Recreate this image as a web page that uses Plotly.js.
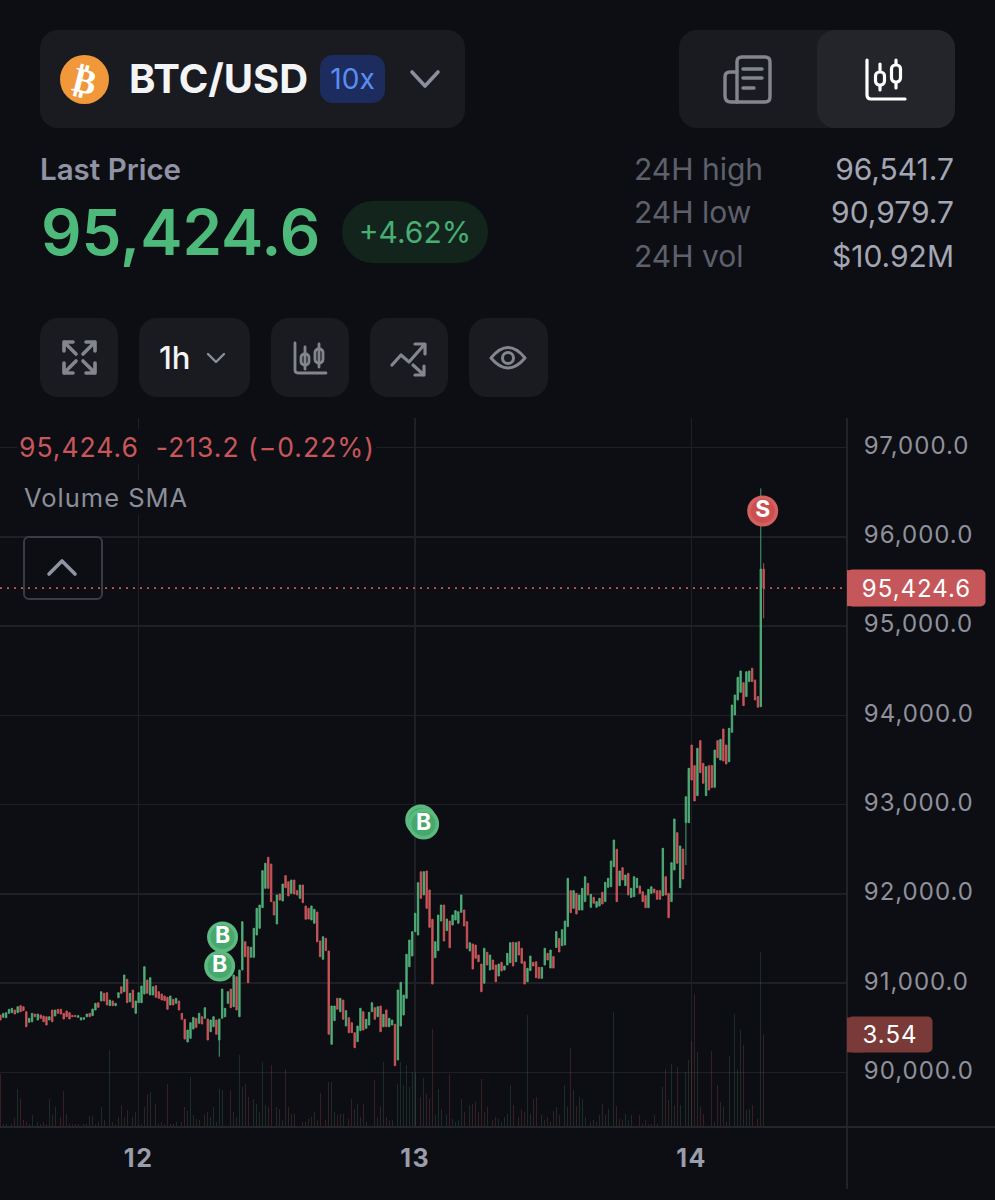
<!DOCTYPE html>
<html><head><meta charset="utf-8">
<script src="https://cdn.plot.ly/plotly-3.0.1.min.js"></script>
<style>
html,body{margin:0;padding:0;background:#0d0e13;width:995px;height:1200px;overflow:hidden;font-family:Inter,"Noto Sans",sans-serif}
#chart{position:absolute;left:0;top:0;width:995px;height:1200px}
.ui{position:absolute;white-space:nowrap;line-height:1}
.card{position:absolute;background:#1a1b20;border-radius:18px}
svg.ic{position:absolute;left:0;top:0;width:995px;height:1200px;pointer-events:none}
.ytick text{letter-spacing:1px}
.yaxislayer-above{transform:translateY(-2px)}
.xtick text{letter-spacing:1.5px}
.annotation-text{letter-spacing:1px}
.annotation rect.bg{rx:5px}
</style></head><body>
<div id="chart"></div>

<div class="card" style="left:40px;top:30px;width:425px;height:98px"></div>
<div class="card" style="left:679px;top:30px;width:276px;height:98px"></div>
<div class="card" style="left:817px;top:30px;width:138px;height:98px;background:#24252b"></div>
<div class="card" style="left:40px;top:318px;width:78px;height:79px"></div>
<div class="card" style="left:139px;top:318px;width:111px;height:79px"></div>
<div class="card" style="left:271px;top:318px;width:78px;height:79px"></div>
<div class="card" style="left:370px;top:318px;width:78px;height:79px"></div>
<div class="card" style="left:469px;top:318px;width:79px;height:79px"></div>

<div class="card" style="left:60px;top:55px;width:49px;height:49px;border-radius:50%;background:#f0983a"></div>
<div class="ui" style="left:60px;width:49px;text-align:center;top:61px;font:700 35px 'DejaVu Sans';color:#fff;transform:rotate(14deg)">₿</div>
<div class="ui" style="left:129px;top:59px;font-size:40px;font-weight:700;color:#f3f4f6">BTC/USD</div>
<div class="card" style="left:320px;top:55px;width:65px;height:48px;background:#1d2c5e;border-radius:13px"></div>
<div class="ui" style="left:320px;width:65px;text-align:center;top:65px;font-size:28px;color:#5b8cf0">10x</div>

<div class="ui" style="left:40px;top:155px;font-size:29.5px;font-weight:600;color:#8f93a3">Last Price</div>
<div class="ui" style="left:41px;top:200px;font-size:63.5px;font-weight:600;color:#4dba7b">95,424.6</div>
<div class="card" style="left:342px;top:201px;width:146px;height:62px;background:#12241c;border-radius:31px"></div>
<div class="ui" style="left:342px;width:146px;text-align:center;top:217px;font-size:30px;color:#47ae74">+4.62%</div>

<div class="ui" style="left:634px;top:154px;font-size:30px;color:#5e606b">24H high</div>
<div class="ui" style="left:634px;top:197px;font-size:30px;color:#5e606b">24H low</div>
<div class="ui" style="left:634px;top:241px;font-size:30px;color:#5e606b">24H vol</div>
<div class="ui" style="right:41px;top:154px;font-size:30px;color:#a3a6b3">96,541.7</div>
<div class="ui" style="right:41px;top:197px;font-size:30px;color:#a3a6b3">90,979.7</div>
<div class="ui" style="right:41px;top:241px;font-size:30px;color:#a3a6b3">$10.92M</div>

<div class="ui" style="left:159px;top:342px;font-size:31px;font-weight:500;color:#f3f4f6">1h</div>

<div class="ui" style="left:23px;top:536px;width:76px;height:60px;border:2px solid #3a3c44;border-radius:6px"></div>

<svg class="ic" viewBox="0 0 995 1200" fill="none" stroke-linecap="round" stroke-linejoin="round">
  <path d="M412 72 L425 86 L438 72" stroke="#8b8e9c" stroke-width="3.6"/>
  <!-- news -->
  <g stroke="#84868f" stroke-width="3.4">
    <path d="M737 102 H765 Q770 102 770 97 V62 Q770 57 765 57 H742 Q737 57 737 62 Z"/>
    <path d="M737 72 H730 Q725 72 725 77 V96 Q725 102 731 102 H737"/>
    <path d="M743 69 H762 M743 78 H762 M743 88 H754"/>
  </g>
  <!-- candles active -->
  <g stroke="#fff" stroke-width="3.2">
    <path d="M867 60 V95 Q867 99 871 99 H905"/>
    <path d="M880 64 V90 M896 60 V88"/>
    <rect x="875.5" y="72" width="9" height="13" rx="4" fill="#24252b"/>
    <rect x="891.5" y="65" width="9" height="17" rx="4" fill="#24252b"/>
  </g>
  <!-- expand -->
  <g stroke="#84868f" stroke-width="3.6">
    <path d="M64 351 V342 H73 M64 342 L76 354"/>
    <path d="M95 351 V342 H86 M95 342 L83 354"/>
    <path d="M64 363 V373 H73 M64 373 L76 361"/>
    <path d="M95 363 V373 H86 M95 373 L83 361"/>
  </g>
  <path d="M208 354 L216 362 L224 354" stroke="#8b8e9c" stroke-width="2.4"/>
  <!-- candles small -->
  <g stroke="#84868f" stroke-width="2.8">
    <path d="M295 343 V370 Q295 373 298 373 H326"/>
    <path d="M305 347 V369 M319 344 V367"/>
    <rect x="301" y="354" width="8" height="11" rx="3.5"/>
    <rect x="315" y="349" width="8" height="14" rx="3.5"/>
  </g>
  <!-- trend -->
  <g stroke="#84868f" stroke-width="3.2">
    <path d="M392 365 L401 355 L409 362 L424 345"/>
    <path d="M415 344 H425 V354"/>
    <path d="M413 365 L424 375 M424 366 V375 H415"/>
  </g>
  <!-- eye -->
  <g stroke="#84868f" stroke-width="3">
    <path d="M491 358 Q508 337 525 358 Q508 378 491 358 Z"/>
    <circle cx="508" cy="358" r="5.5"/>
  </g>
  <path d="M49 574 L62 561 L75 574" stroke="#8f93a3" stroke-width="3.6"/>
</svg>

<script>
const startUTC = Date.UTC(2026,0,11,12,0);
const stepMs = 900000;

const open = [90644,90618,90614,90663,90670,90700,90670,90749,90737,90681,90562,90569,90655,90588,90644,90633,90625,90588,90700,90633,
90708,90708,90663,90689,90670,90640,90640,90618,90588,90596,90625,90663,90637,90700,90782,90801,90887,90894,90749,90801,
90749,90838,90961,90905,91044,90793,90924,90663,90782,90782,90879,91036,90868,90868,90973,90905,90879,90857,90842,90756,
90820,90775,90801,90663,90596,90342,90383,90487,90607,90551,90625,90607,90599,90457,90513,90588,90364,90607,90625,90775,
90935,90737,91073,90625,91148,91465,91409,91290,91290,91540,91615,91846,92063,92410,92335,91913,91663,92000,91921,92205,
92137,92007,92156,92037,91951,92100,91865,91839,91708,91671,91798,91473,91268,91503,91361,90316,90581,90831,90681,90812,
90521,90614,90558,90446,90346,90469,90681,90495,90532,90681,90726,90625,90745,90513,90700,90513,90532,90540,90140,90521,
90644,90831,91185,91305,91577,91540,92249,91988,92257,92044,91716,91286,91365,91697,91876,91589,91697,91652,91708,91671,
91794,91820,91689,91361,91439,91428,91316,91215,91000,91346,91148,91260,91204,91081,91234,91148,91204,91230,91458,91241,
91465,91391,91241,91017,91141,91234,91241,91178,91055,91204,91335,91170,91300,91400,91500,91420,91428,91634,92037,91839,
92007,91820,91820,91914,92119,91850,91962,91850,91865,92018,91914,92074,92081,92305,92500,92093,92294,92093,92231,91962,
91970,92070,92089,92025,91981,91846,92007,92055,92037,92037,91981,92193,92007,91914,92268,92686,92070,92503,92798,92798,
93668,93437,93101,93717,93463,93101,93437,93437,93194,93717,93500,93847,93668,93481,93810,94004,94172,94258,94366,94210,
94378,94527,94396,94210,94097,95638];

const close = [90588,90663,90670,90708,90719,90655,90737,90681,90693,90513,90607,90663,90625,90655,90607,90569,90532,90625,90569,90700,
90663,90655,90599,90625,90599,90625,90625,90637,90614,90614,90655,90625,90711,90775,90730,90905,90801,90756,90812,90749,
90775,90894,90887,91092,90782,90887,90726,90801,90894,90969,91185,90887,91062,90961,90842,90831,90812,90805,90708,90857,
90756,90831,90700,90596,90375,90476,90558,90618,90506,90663,90543,90726,90364,90588,90625,90428,90599,90935,90719,90905,
90726,91092,90700,91148,91689,91297,91006,91402,91615,91839,91876,92261,92343,92063,91913,91764,91988,91932,92111,92070,
91977,92156,92000,91988,92100,91902,91716,91719,91865,91828,91465,91297,91521,91365,90428,90745,90745,90708,90831,90596,
90693,90446,90446,90278,90521,90719,90476,90596,90674,90782,90596,90737,90457,90652,90513,90607,90588,90077,90924,91010,
90868,91324,91484,91577,91783,92126,91951,92249,91839,91626,90991,91465,91764,91876,91473,91719,91398,91764,91813,91801,
91988,91641,91391,91454,91159,91279,91241,90905,91391,91204,91316,91156,91017,91215,91137,91193,91335,91454,91193,91454,
91316,91223,90991,91167,91305,91193,91062,91055,91178,91391,91260,91372,91170,91578,91350,91600,91697,92175,91790,92037,
91775,91988,92063,92193,91988,91996,91895,91914,91951,91887,92130,92175,92369,92604,91914,92257,92156,92212,91988,92063,
92193,92175,92007,91914,91846,92052,92081,92014,91940,91940,92511,91988,91734,92350,92839,92343,92537,92167,93089,93407,
93276,93041,93631,93358,93239,93425,93164,93190,93612,93526,93731,93489,93455,93855,94116,94228,94426,94497,94109,94489,
94497,94378,94172,94090,95638,95424.6];

// Wicks that stick out past the candle bodies, by candle number.
const wickHighAt = [264,265];
const wickHighVal = [96541.7,95703];
const wickLowAt = [76,238,265];
const wickLowVal = [90177,92324,95087];

const volume = [2.05,.1,.13,.19,.1,.35,1.45,1.09,.26,.19,.13,.47,.13,.19,.13,.19,.13,1.09,.45,.77,
.19,.38,1.37,.51,.13,.1,.1,.13,.1,.1,.13,.42,.42,.13,.19,.77,.26,2.69,2.95,.19,
.13,.38,.83,.38,.64,.58,.38,.58,.06,.13,.77,1.28,1.35,.45,.9,.13,.19,.13,1.67,.13,
.13,.19,.32,.19,.77,.6,1.92,.45,.32,.26,.19,.45,.58,.38,.77,.19,1.47,1.41,.38,.19,
1.41,.58,.38,2.76,1.54,1.67,1.15,.51,1.09,.9,.58,2.5,.83,.77,2.37,.77,.77,.71,.26,2.24,
.77,.51,.51,.13,.71,.19,.19,.32,.38,.58,.26,1.32,1.28,.26,1.73,1.73,.58,.45,.51,.51,
.83,.32,1.09,.71,.9,.38,.9,.19,.64,2.95,1.79,.38,.77,2.5,.38,.26,.26,1.47,1.67,2.5,
1.6,2.37,1.54,2.12,2.12,2.63,1.15,1.88,1.28,1.09,3.76,.45,1.47,.71,1.73,.45,2.05,.32,.19,.26,
1.09,.58,.77,.83,.9,.96,.58,1.86,.58,.77,.32,.26,.38,.32,.19,.38,.51,1.6,.83,.83,
.38,.64,.58,4.31,.51,1.09,1.15,.58,.45,.26,.38,.19,.6,.77,.45,.32,1.6,.77,3.04,1.41,
.81,1.15,1.09,.38,.47,.19,.26,.19,.47,.9,.45,.71,.9,4.42,.81,.32,.26,.51,.26,.47,
.13,.96,.45,.13,.26,.13,.13,.45,.13,6.0,1.54,2.24,1.03,2.44,.83,2.31,.83,1.67,2.12,2.56,
3.29,5.13,2.88,.77,.51,1.28,.77,2.94,.19,1.6,.96,.77,.19,2.73,.9,4.36,2.24,3.72,3.14,.64,
.71,.83,.58,.3,6.73,3.54];

const priceTicks = [90000,91000,92000,93000,94000,95000,96000,97000];
const dayTicks = ['2026-01-12','2026-01-13','2026-01-14'];
const dayLabels = ['12','13','14'];

const signalTimes = ['2026-01-13 00:29','2026-01-13 00:44','2026-01-12 07:02','2026-01-12 07:17','2026-01-14 06:10'];
const signalPrices = [92828,92783,91193,91518,96289];
const signalKinds = ['B','B','B','B','S'];
const signalLabels = ['','B','B','B','S'];

const lastPrice = 95424.6, lastVolume = 3.54;
const GREEN='#4fae78', RED='#c9565a';
const BG='#0d0e13', GRID='#1f2025';

const times = open.map((_,i)=>new Date(startUTC+i*stepMs).toISOString().slice(0,16).replace('T',' '));
const high = open.map((o,i)=>{const w=wickHighAt.indexOf(i);return w>=0?wickHighVal[w]:Math.max(o,close[i]);});
const low  = open.map((o,i)=>{const w=wickLowAt.indexOf(i);return w>=0?wickLowVal[w]:Math.min(o,close[i]);});
const volColors = open.map((o,i)=>close[i]>=o?'rgba(79,174,120,.2)':'rgba(201,86,90,.24)');

const traces = [
 {type:'candlestick',x:times,open,high,low,close,yaxis:'y',xaxis:'x',hoverinfo:'skip',
  increasing:{line:{color:GREEN,width:.9},fillcolor:GREEN},
  decreasing:{line:{color:RED,width:.9},fillcolor:RED},whiskerwidth:0},
 {type:'bar',x:times,y:volume,yaxis:'y2',xaxis:'x',width:stepMs*.3,marker:{color:volColors,line:{width:0}},hoverinfo:'skip'},
 {type:'scatter',mode:'markers+text',x:signalTimes,y:signalPrices,text:signalLabels,textposition:'middle center',yaxis:'y',
  textfont:{family:'Inter',size:23,color:'#ffffff',weight:700},hoverinfo:'skip',
  marker:{size:27.5,color:signalKinds.map(s=>s==='B'?'#46a86c':'#c94f50'),line:{width:3.5,color:signalKinds.map(s=>s==='B'?'#5cba80':'#d4605f')}}}
];

const layout = {
 width:995,height:1200,paper_bgcolor:BG,plot_bgcolor:BG,showlegend:false,
 margin:{l:0,r:148,t:418,b:73,pad:0},
 font:{family:'Inter'},
 bargap:0,
 xaxis:{type:'date',range:['2026-01-11 11:58','2026-01-14 13:29'],rangeslider:{visible:false},
  tickvals:dayTicks,ticktext:dayLabels,showgrid:true,gridcolor:GRID,gridwidth:1.6,zeroline:false,showline:false,
  ticks:'outside',ticklen:9,tickcolor:'rgba(0,0,0,0)',tickfont:{family:'Inter',size:25,color:'#9a9daa',weight:700}},
 yaxis:{range:[89390,97330],side:'right',tickvals:priceTicks,tickformat:',.1f',showgrid:true,gridcolor:GRID,gridwidth:1.6,
  zeroline:false,showline:false,ticks:'outside',ticklen:11,tickcolor:'rgba(0,0,0,0)',
  tickfont:{family:'Inter',size:24,color:'#8f919c'}},
 yaxis2:{range:[0,27.27],overlaying:'y',side:'right',visible:false,showgrid:false,zeroline:false},
 shapes:[
  {type:'line',xref:'paper',yref:'y',x0:0,x1:1,y0:lastPrice,y1:lastPrice,line:{color:'#c9565a',width:1.6,dash:'2px 5px'}},
  {type:'line',xref:'paper',yref:'paper',x0:1,x1:1,y0:-0.0874,y1:1,line:{color:'#25262c',width:1.8}},
  {type:'line',xref:'paper',yref:'paper',x0:0,x1:1.175,y0:0,y1:0,line:{color:'#25262c',width:1.8}},
  {type:'rect',xref:'paper',yref:'y',x0:1,x1:1.02,y0:lastPrice-201.6,y1:lastPrice+201.6,line:{width:0},fillcolor:'#c5565a'},
  {type:'rect',xref:'paper',yref:'y2',x0:1,x1:1.02,y0:lastVolume-.67,y1:lastVolume+.67,line:{width:0},fillcolor:'#7a3a38'}
 ],
 annotations:[
  {xref:'paper',yref:'paper',x:0.0205,y:0.9595,xanchor:'left',yanchor:'middle',showarrow:false,align:'left',
   text:'95,424.6  -213.2 (−0.22%)',font:{family:'Inter',size:26.5,color:'#c9565a'},bgcolor:BG},
  {xref:'paper',yref:'paper',x:0.0260,y:0.8875,xanchor:'left',yanchor:'middle',showarrow:false,align:'left',
   text:'Volume SMA',font:{family:'Inter',size:25.5,color:'#8b8e9b'},bgcolor:BG},
  {xref:'paper',yref:'y',x:1,y:lastPrice,xanchor:'left',yanchor:'middle',showarrow:false,width:137,height:36,align:'center',
   text:'95,424.6',font:{family:'Inter',size:24,color:'#ffffff'},bgcolor:'#c5565a',borderpad:0},
  {xref:'paper',yref:'y2',x:1,y:lastVolume,xanchor:'left',yanchor:'middle',showarrow:false,width:84,height:35,align:'center',
   text:'3.54',font:{family:'Inter',size:24,color:'#ffffff'},bgcolor:'#7a3a38',borderpad:0}
 ]
};
Plotly.newPlot('chart',traces,layout,{displayModeBar:false,staticPlot:true});
</script>
</body></html>
